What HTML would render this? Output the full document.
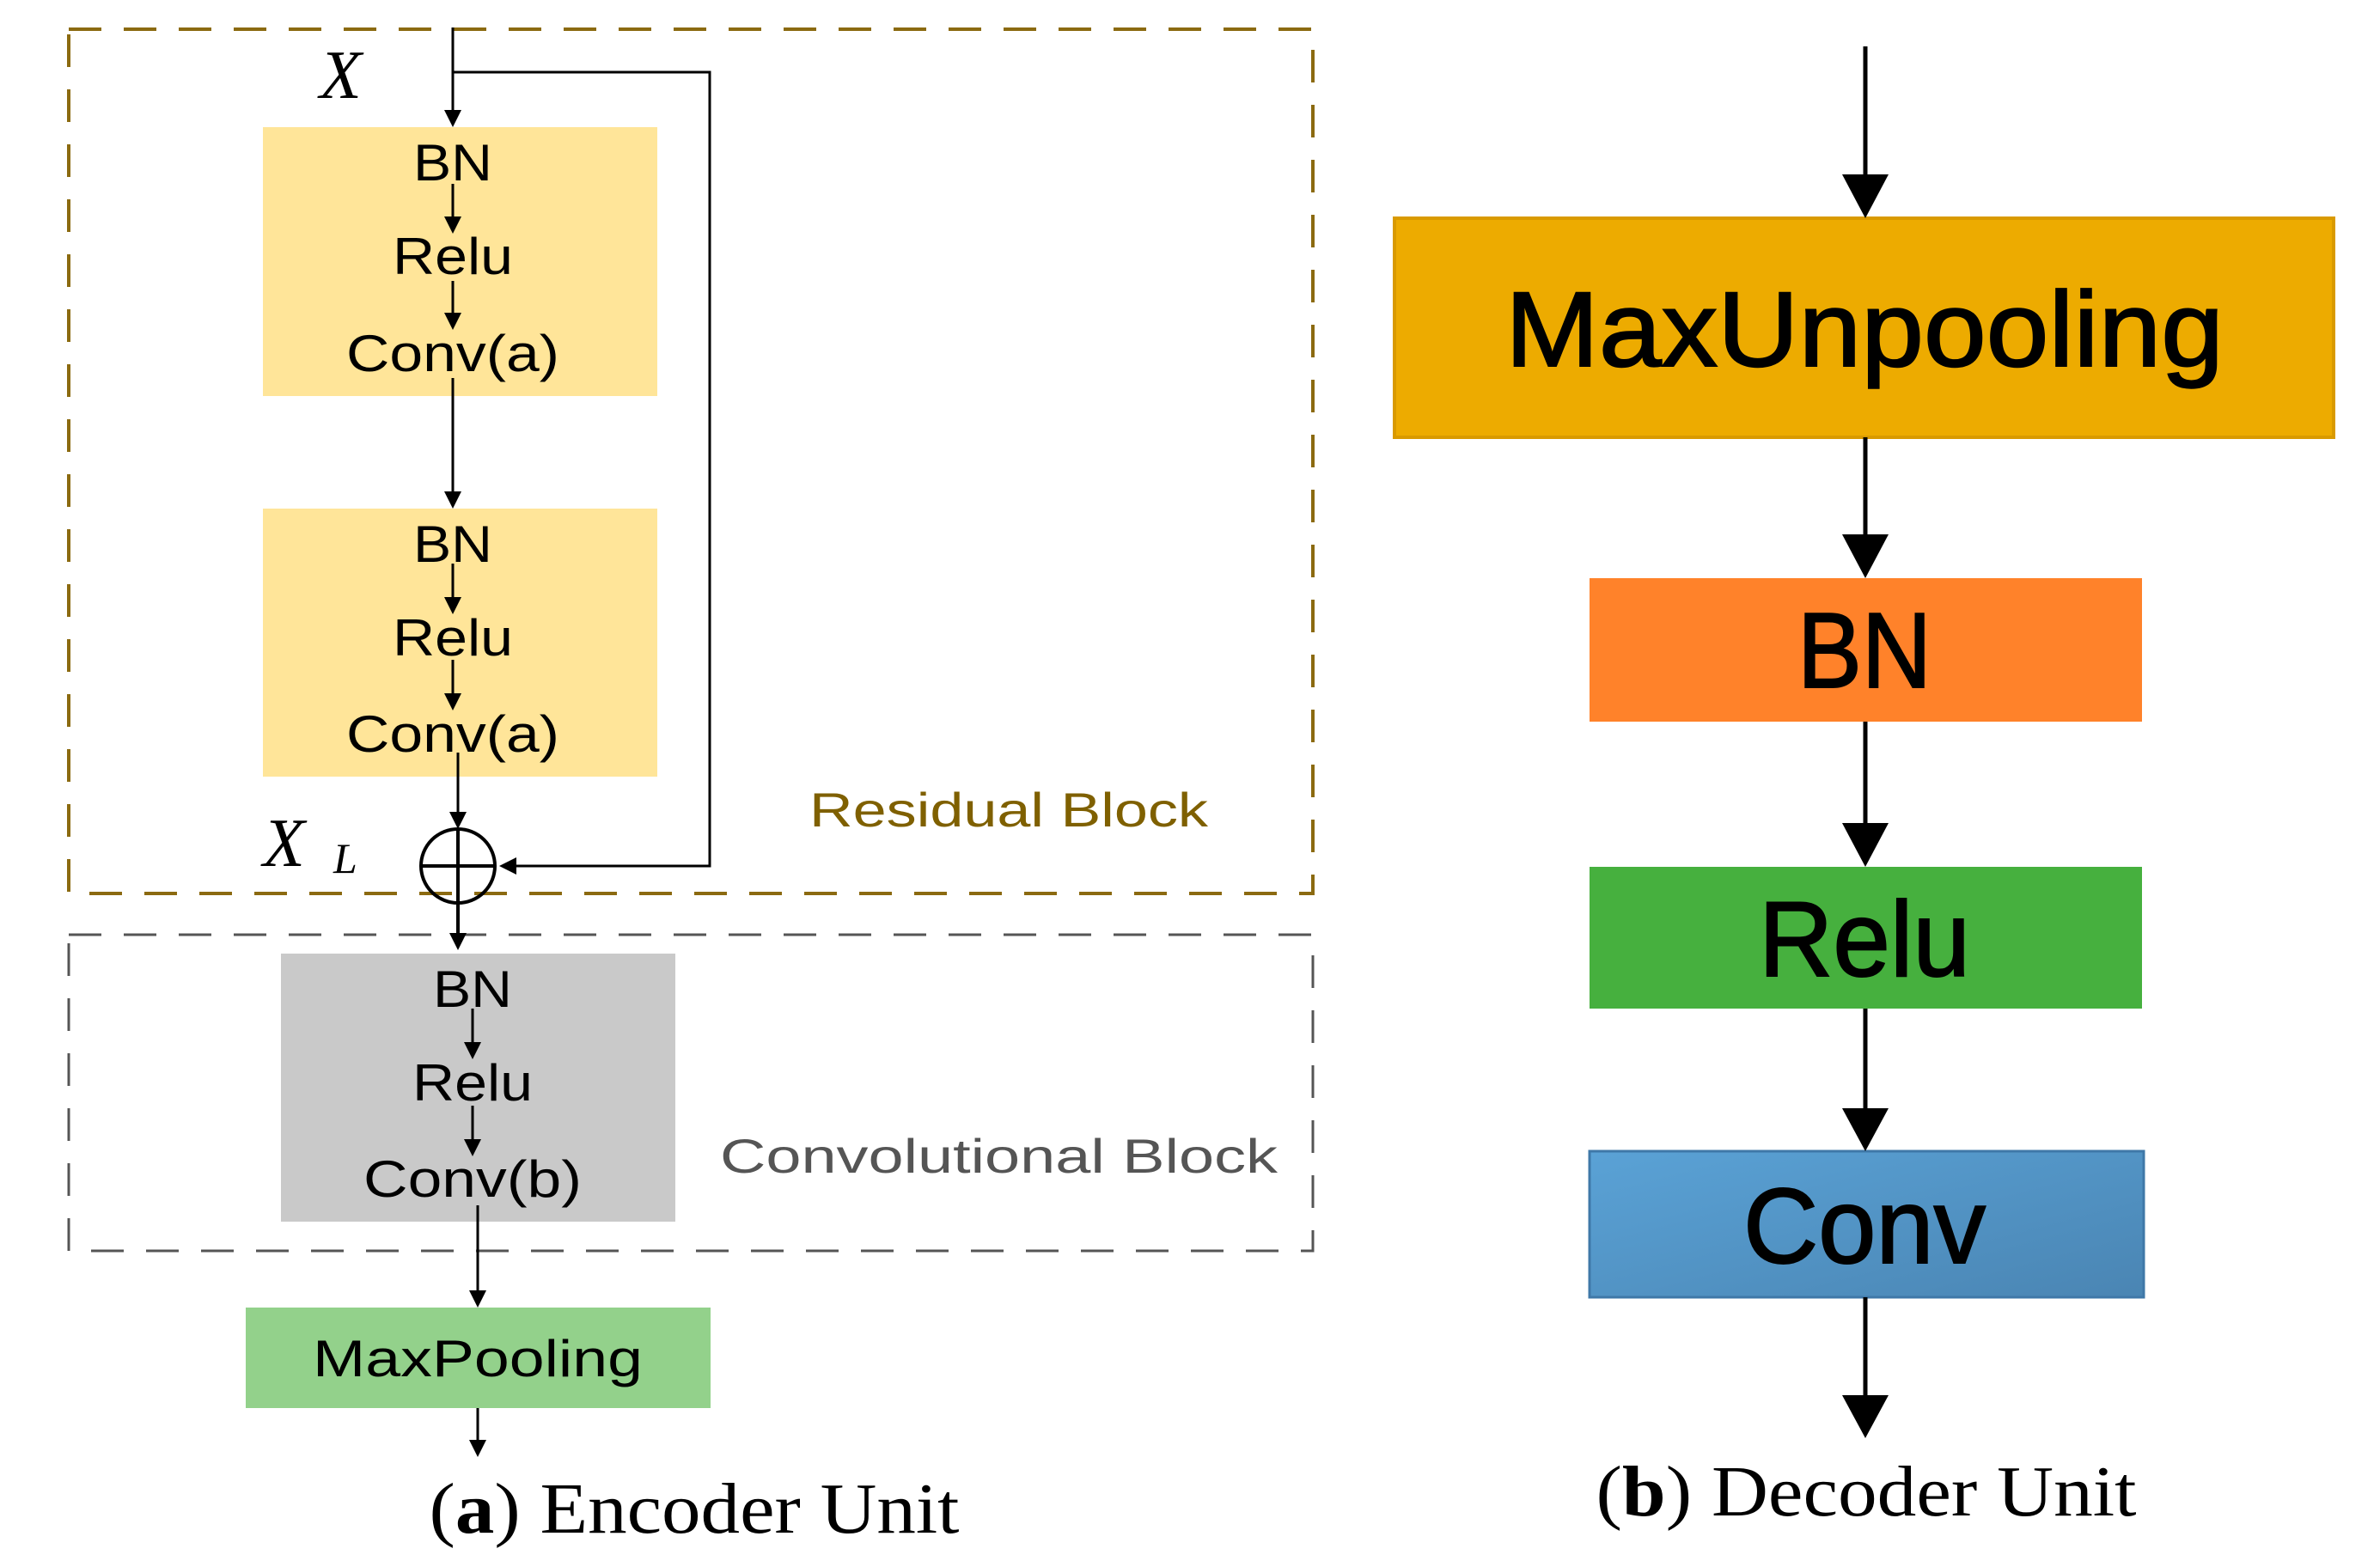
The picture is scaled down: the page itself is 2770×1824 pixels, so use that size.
<!DOCTYPE html>
<html><head><meta charset="utf-8"><style>
html,body{margin:0;padding:0;background:#fff;}
svg{display:block;}
.s{font-family:"Liberation Sans",sans-serif;}
.r{font-family:"Liberation Serif",serif;}
</style></head><body>
<svg width="2770" height="1824" viewBox="0 0 2770 1824" xmlns="http://www.w3.org/2000/svg">
<defs>
<linearGradient id="cg" x1="0" y1="0" x2="1" y2="1"><stop offset="0" stop-color="#5AA2D6"/><stop offset="1" stop-color="#4A85B3"/></linearGradient>
</defs>

<rect x="80" y="34" width="1448" height="1006" fill="none" stroke="#8B6A10" stroke-width="4" stroke-dasharray="38,26"/>
<rect x="80" y="1088" width="1448" height="368" fill="none" stroke="#555" stroke-width="3" stroke-dasharray="38,26"/>

<rect x="306" y="148" width="459" height="313" fill="#FFE599"/>
<rect x="306" y="592" width="459" height="312" fill="#FFE599"/>
<rect x="327" y="1110" width="459" height="312" fill="#C9C9C9"/>
<rect x="286" y="1522" width="541" height="117" fill="#93D18B"/>

<g stroke="#000" stroke-width="3" fill="none">
<line x1="527" y1="32" x2="527" y2="135"/>
<polyline points="527,84 826,84 826,1008 600,1008"/>
<line x1="527" y1="214" x2="527" y2="258"/>
<line x1="527" y1="327" x2="527" y2="370"/>
<line x1="527" y1="440" x2="527" y2="578"/>
<line x1="527" y1="656" x2="527" y2="700"/>
<line x1="527" y1="768" x2="527" y2="812"/>
<line x1="533" y1="876" x2="533" y2="950"/>
<circle cx="533" cy="1008" r="43" stroke-width="4"/>
<line x1="490" y1="1008" x2="576" y2="1008" stroke-width="4"/>
<line x1="533" y1="965" x2="533" y2="1090" stroke-width="4"/>
<line x1="550" y1="1174" x2="550" y2="1218"/>
<line x1="550" y1="1287" x2="550" y2="1331"/>
<line x1="556" y1="1403" x2="556" y2="1505"/>
<line x1="556" y1="1639" x2="556" y2="1680"/>
</g>
<g fill="#000">
<polygon points="517,128 537,128 527,148"/>
<polygon points="517,252 537,252 527,272"/>
<polygon points="517,364 537,364 527,384"/>
<polygon points="517,572 537,572 527,592"/>
<polygon points="517,695 537,695 527,715"/>
<polygon points="517,807 537,807 527,827"/>
<polygon points="523,945 543,945 533,965"/>
<polygon points="601,998 601,1018 581,1008"/>
<polygon points="523,1086 543,1086 533,1106"/>
<polygon points="540,1213 560,1213 550,1233"/>
<polygon points="540,1326 560,1326 550,1346"/>
<polygon points="546,1502 566,1502 556,1522"/>
<polygon points="546,1676 566,1676 556,1696"/>
</g>

<g class="s" font-size="60" fill="#000" text-anchor="middle">
<text x="527" y="210" textLength="92" lengthAdjust="spacingAndGlyphs">BN</text>
<text x="527" y="319" textLength="140" lengthAdjust="spacingAndGlyphs">Relu</text>
<text x="527" y="432" textLength="248" lengthAdjust="spacingAndGlyphs">Conv(a)</text>
<text x="527" y="654" textLength="92" lengthAdjust="spacingAndGlyphs">BN</text>
<text x="527" y="763" textLength="140" lengthAdjust="spacingAndGlyphs">Relu</text>
<text x="527" y="875" textLength="248" lengthAdjust="spacingAndGlyphs">Conv(a)</text>
<text x="550" y="1172" textLength="92" lengthAdjust="spacingAndGlyphs">BN</text>
<text x="550" y="1281" textLength="140" lengthAdjust="spacingAndGlyphs">Relu</text>
<text x="550" y="1393" textLength="254" lengthAdjust="spacingAndGlyphs">Conv(b)</text>
<text x="556" y="1602" textLength="384" lengthAdjust="spacingAndGlyphs">MaxPooling</text>
</g>
<text class="s" x="942" y="962" font-size="56" fill="#7F6000" textLength="464" lengthAdjust="spacingAndGlyphs">Residual Block</text>
<text class="s" x="838" y="1365" font-size="56" fill="#555" textLength="649" lengthAdjust="spacingAndGlyphs">Convolutional Block</text>

<text class="r" x="372" y="114" font-size="80" font-style="italic">X</text>
<text class="r" x="306" y="1008" font-size="80" font-style="italic">X</text>
<text class="r" x="388" y="1016" font-size="50" font-style="italic">L</text>

<text class="r" x="808" y="1784" font-size="84" text-anchor="middle" textLength="617" lengthAdjust="spacingAndGlyphs">(<tspan font-weight="bold">a</tspan>) Encoder Unit</text>

<rect x="1623" y="254" width="1093" height="255" fill="#EDAB00" stroke="#D99A00" stroke-width="4"/>
<rect x="1850" y="673" width="643" height="167" fill="#FF822A"/>
<rect x="1850" y="1009" width="643" height="165" fill="#46B03E"/>
<rect x="1850" y="1340" width="645" height="170" fill="url(#cg)" stroke="#3F78A8" stroke-width="3"/>
<g stroke="#000" stroke-width="5">
<line x1="2171" y1="54" x2="2171" y2="210"/>
<line x1="2171" y1="509" x2="2171" y2="630"/>
<line x1="2171" y1="840" x2="2171" y2="965"/>
<line x1="2171" y1="1174" x2="2171" y2="1298"/>
<line x1="2171" y1="1510" x2="2171" y2="1632"/>
</g>
<g fill="#000">
<polygon points="2144,203 2198,203 2171,254"/>
<polygon points="2144,622 2198,622 2171,673"/>
<polygon points="2144,958 2198,958 2171,1009"/>
<polygon points="2144,1290 2198,1290 2171,1340"/>
<polygon points="2144,1624 2198,1624 2171,1674"/>
</g>
<g class="s" font-size="124" fill="#000" text-anchor="middle" stroke="#000" stroke-width="2">
<text x="2170" y="426" textLength="836" lengthAdjust="spacingAndGlyphs">MaxUnpooling</text>
<text x="2170" y="800" textLength="156" lengthAdjust="spacingAndGlyphs">BN</text>
<text x="2170" y="1136" textLength="246" lengthAdjust="spacingAndGlyphs">Relu</text>
<text x="2170" y="1470" textLength="282" lengthAdjust="spacingAndGlyphs">Conv</text>
</g>
<text class="r" x="2172" y="1764" font-size="84" text-anchor="middle" textLength="629" lengthAdjust="spacingAndGlyphs">(<tspan font-weight="bold">b</tspan>) Decoder Unit</text>
</svg>
</body></html>
